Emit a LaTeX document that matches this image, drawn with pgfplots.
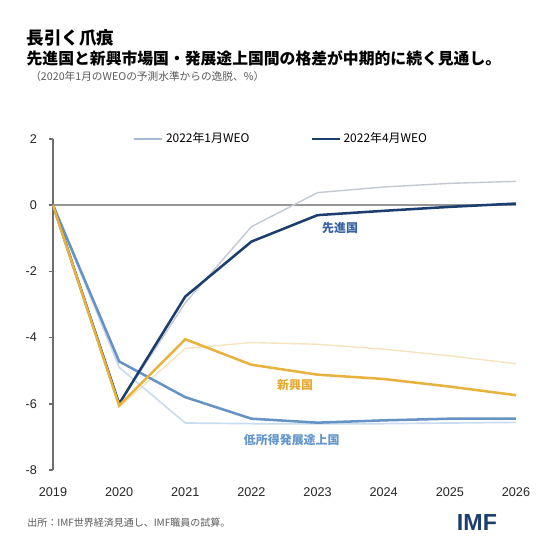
\documentclass[border=0pt]{standalone}
\usepackage{fontspec}
\setmainfont{Noto Sans CJK JP}
\newfontfamily\latinfont{Liberation Sans}
\usepackage{pgfplots}
\pgfplotsset{compat=1.18}

\definecolor{navy}{RGB}{28,62,110}
\definecolor{advjan}{RGB}{195,200,210}
\definecolor{legjan}{RGB}{165,185,212}
\definecolor{gold}{RGB}{232,178,62}
\definecolor{goldjan}{RGB}{246,228,188}
\definecolor{lidc}{RGB}{102,146,196}
\definecolor{lidcjan}{RGB}{202,221,240}
\definecolor{zerogray}{RGB}{150,150,150}
\definecolor{axgray}{RGB}{110,110,110}
\definecolor{notegray}{RGB}{90,90,90}
\definecolor{advlab}{RGB}{58,98,160}
\definecolor{goldlab}{RGB}{230,168,48}
\definecolor{lidclab}{RGB}{100,150,202}

\begin{document}
\begin{tikzpicture}
\path[use as bounding box] (0,0) rectangle (14,14);
\node[anchor=west, inner sep=0, font=\bfseries\fontsize{12.5}{14}\selectfont] at (0.66,13.05) {長引く爪痕};
\node[anchor=west, inner sep=0, font=\bfseries\fontsize{11.25}{13}\selectfont] at (0.66,12.55) {先進国と新興市場国・発展途上国間の格差が中期的に続く見通し。};
\node[anchor=west, inner sep=0, text=notegray, font=\fontsize{7.6}{9}\selectfont] at (0.75,12.1) {（2020年1月のWEOの予測水準からの逸脱、\%）};
\node[anchor=west, inner sep=0, text=notegray, font=\fontsize{7.1}{9}\selectfont] at (0.68,0.925) {出所：IMF世界経済見通し、IMF職員の試算。};
\node[anchor=east, inner sep=0, text=navy, font=\latinfont\bfseries\fontsize{16.5}{18}\selectfont] at (12.43,0.925) {IMF};

\begin{axis}[
  at={(1.325cm,2.25cm)}, anchor=south west,
  scale only axis, width=11.575cm, height=8.275cm,
  xmin=2019, xmax=2026, ymin=-8, ymax=2,
  clip=false,
  axis y line*=left, axis x line*=bottom,
  x axis line style={draw=none},
  y axis line style={draw=axgray, line width=1pt},
  xtick={2019,2020,2021,2022,2023,2024,2025,2026},
  xticklabels={2019,2020,2021,2022,2023,2024,2025,2026},
  ytick={-8,-6,-4,-2,0,2},
  yticklabels={-8,-6,-4,-2,0,2},
  x tick style={draw=none},
  y tick style={draw=axgray, line width=1pt},
  tick align=outside, major tick length=3pt,
  tick label style={font=\latinfont\fontsize{9}{10}\selectfont, text=black!85},
  xticklabel style={yshift=-6pt},
  yticklabel style={xshift=-5pt},
  legend style={at={(rel axis cs:0.4935,1)}, anchor=center, draw=none, fill=none,
    font=\fontsize{8.5}{10}\selectfont, legend columns=2,
    /tikz/every even column/.append style={column sep=1.45cm}},
  legend image code/.code={\draw[#1] (0cm,0cm) -- (0.7cm,0cm);},
]
% zero line
\addplot[zerogray, line width=1pt, forget plot] coordinates {(2019,0) (2026,0)};

% January 2022 WEO (thin, pale)
\addplot[advjan, line width=1pt, forget plot] coordinates {
  (2019,0) (2020,-6.0) (2021,-2.95) (2022,-0.65) (2023,0.38) (2024,0.55) (2025,0.66) (2026,0.72)};
\addplot[goldjan, line width=1pt, forget plot] coordinates {
  (2019,0) (2020,-6.1) (2021,-4.33) (2022,-4.15) (2023,-4.2) (2024,-4.35) (2025,-4.55) (2026,-4.79)};
\addplot[lidcjan, line width=1.2pt, forget plot] coordinates {
  (2019,0) (2020,-4.9) (2021,-6.58) (2022,-6.6) (2023,-6.6) (2024,-6.6) (2025,-6.58) (2026,-6.56)};

% April 2022 WEO (thick)
\addplot[lidc, line width=1.8pt, forget plot] coordinates {
  (2019,0) (2020,-4.72) (2021,-5.8) (2022,-6.45) (2023,-6.57) (2024,-6.5) (2025,-6.45) (2026,-6.45)};
\addplot[navy, line width=1.8pt, forget plot] coordinates {
  (2019,0) (2020,-6.0) (2021,-2.76) (2022,-1.1) (2023,-0.3) (2024,-0.17) (2025,-0.05) (2026,0.05)};
\addplot[gold, line width=1.8pt, forget plot] coordinates {
  (2019,0) (2020,-6.05) (2021,-4.05) (2022,-4.82) (2023,-5.12) (2024,-5.25) (2025,-5.48) (2026,-5.74)};

\addlegendimage{legjan, line width=1.5pt}
\addlegendentry{2022年1月WEO}
\addlegendimage{navy, line width=1.8pt}
\addlegendentry{2022年4月WEO}

\node[text=advlab, font=\bfseries\fontsize{8.5}{10}\selectfont] at (axis cs:2023.34,-0.69) {先進国};
\node[text=goldlab, font=\bfseries\fontsize{8.5}{10}\selectfont] at (axis cs:2022.66,-5.44) {新興国};
\node[text=lidclab, font=\bfseries\fontsize{8.5}{10}\selectfont] at (axis cs:2022.61,-7.1) {低所得発展途上国};
\end{axis}
\end{tikzpicture}
\end{document}
